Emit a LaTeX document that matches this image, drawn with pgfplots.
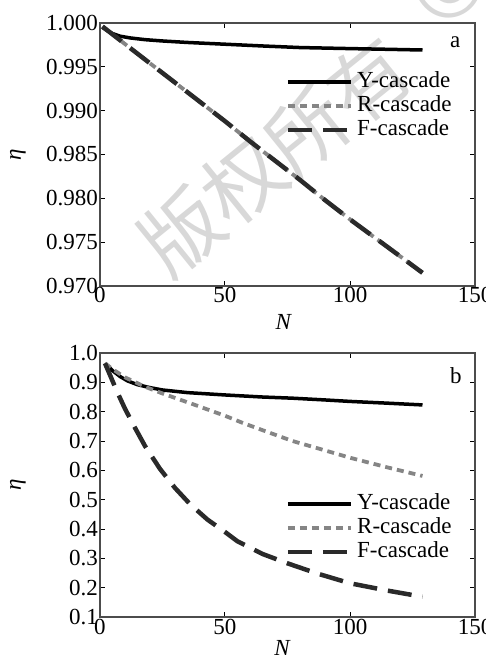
\documentclass[border=0pt]{standalone}
\usepackage{fontspec}
\setmainfont{Liberation Serif}
\newfontfamily\cjk{Noto Sans CJK SC}
\usepackage{pgfplots}
\pgfplotsset{compat=1.18}
\definecolor{rgray}{HTML}{858585}
\definecolor{fgray}{HTML}{2A2A2A}
\definecolor{wm}{HTML}{D8D8D8}
\newcommand{\fs}{\fontsize{23}{26}\selectfont}
\pgfplotsset{
  panel/.style={
    scale only axis, width=375pt,
    xmin=0, xmax=150, xtick={0,50,100,150},
    tick align=inside, major tick length=5pt,
    axis line style={black!70, line width=1.1pt},
    every tick/.style={black, line width=1pt},
    /pgf/number format/assume math mode=true,
    tick label style={font=\fs},
    xticklabel style={inner sep=1.5pt},
    yticklabel style={inner sep=2pt},
    label style={font=\fs},
    legend style={draw=none, fill=none, inner sep=0pt, row sep=1pt,
      column sep=3pt, font=\fs,
      nodes={inner sep=1pt, text height=16pt, text depth=5pt}},
    legend cell align=left,
    legend image code/.code={\draw[##1] (0pt,0pt) -- (63pt,0pt);},
    ylabel={\textit{η}},
    xlabel={\textit{N}},
    ylabel style={at={(axis description cs:-0.219,0.5)}, anchor=center},
    scaled y ticks=false,
  },
  ystyle/.style={black, line width=3.5pt},
  rstyle/.style={rgray, line width=3.8pt, dash pattern=on 7pt off 5pt},
  fstyle/.style={fgray, line width=4.5pt, dash pattern=on 24pt off 11pt},
}
\begin{document}
\begin{tikzpicture}
\path[use as bounding box] (-100pt,-373pt) rectangle (385pt,286pt);
\node[rotate=39, text=wm, font=\cjk\fontsize{80}{80}\selectfont] at (175pt,130pt) {版权所有};
\node[rotate=39, text=wm, font=\cjk\fontsize{90}{90}\selectfont] at (348pt,301pt) {©};

\begin{axis}[panel, at={(0pt,0pt)}, anchor=south west, height=263pt,
  ymin=0.970, ymax=1.000, ytick={0.970,0.975,0.980,0.985,0.990,0.995,1.000},
  yticklabel style={/pgf/number format/.cd, fixed, fixed zerofill, precision=3},
  xlabel style={at={(axis description cs:0.49,-0.136)}, anchor=center},
  legend style={at={(axis description cs:0.941,0.821)}, anchor=north east}]
\addplot[ystyle] coordinates {(1,0.9995) (3,0.9991) (5,0.9988) (8,0.9985) (12,0.9983) (18,0.9981) (25,0.99795) (35,0.99778) (50,0.99758) (65,0.99738) (80,0.9972) (100,0.99708) (115,0.997) (129,0.99692)};
\addlegendentry{Y-cascade}
\addplot[rstyle] coordinates {(1,0.9996) (10,0.9976) (20,0.9954) (30,0.9932) (40,0.9910) (50,0.9888) (60,0.9865) (70,0.9843) (80,0.9821) (90,0.9798) (100,0.9776) (110,0.9755) (120,0.9734) (129,0.9715)};
\addlegendentry{R-cascade}
\addplot[fstyle] coordinates {(1,0.9996) (10,0.9976) (20,0.9954) (30,0.9932) (40,0.9910) (50,0.9888) (60,0.9865) (70,0.9843) (80,0.9821) (90,0.9798) (100,0.9776) (110,0.9755) (120,0.9734) (129,0.9715)};
\addlegendentry{F-cascade}
\node[font=\fs] at (axis description cs:0.947,0.928) {a};
\end{axis}

\begin{axis}[panel, at={(0pt,-331pt)}, anchor=south west, height=264pt,
  ymin=0.1, ymax=1.0, ytick={0.1,0.2,0.3,0.4,0.5,0.6,0.7,0.8,0.9,1.0},
  yticklabel style={/pgf/number format/.cd, fixed, fixed zerofill, precision=1},
  xlabel style={at={(axis description cs:0.487,-0.118)}, anchor=center},
  legend style={at={(axis description cs:0.941,0.473)}, anchor=north east}]
\addplot[ystyle] coordinates {(2,0.965) (5,0.94) (8,0.92) (11,0.905) (15,0.892) (20,0.882) (25,0.874) (35,0.865) (50,0.857) (65,0.85) (77,0.846) (90,0.84) (100,0.835) (115,0.829) (129,0.823)};
\addlegendentry{Y-cascade}
\addplot[rstyle] coordinates {(2,0.965) (5,0.945) (10,0.917) (18,0.885) (25,0.862) (38,0.823) (50,0.786) (57,0.762) (65,0.737) (77,0.70) (90,0.668) (100,0.643) (115,0.61) (129,0.581)};
\addlegendentry{R-cascade}
\addplot[fstyle] coordinates {(2,0.965) (4,0.925) (7,0.865) (10,0.81) (14,0.745) (18,0.683) (24,0.605) (30,0.54) (36,0.485) (43,0.432) (50,0.39) (55,0.358) (65,0.315) (75,0.283) (87,0.248) (100,0.215) (115,0.19) (129,0.169)};
\addlegendentry{F-cascade}
\node[font=\fs] at (axis description cs:0.949,0.913) {b};
\end{axis}
\end{tikzpicture}
\end{document}
